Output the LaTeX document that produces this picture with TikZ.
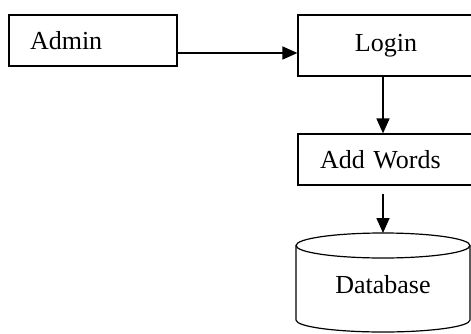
\documentclass[tikz,border=0pt]{standalone}
\usepackage{fontspec}
\setmainfont{Liberation Serif}
\usepackage{tikz}
\usetikzlibrary{arrows.meta,positioning,calc}

\begin{document}
\begin{tikzpicture}[x=1pt,y=1pt,
    box/.style={draw,line width=1.2pt,minimum height=51pt,font=\fontsize{26}{30}\selectfont},
    arr/.style={line width=1.6pt,-{Triangle[length=15pt,width=13pt]}}]
  \useasboundingbox (0,0) rectangle (471,333);
  \node[box,minimum width=168pt,text width=126pt,inner xsep=21pt,align=left] (admin) at (93,292.5) {Admin};
  \node[box,minimum width=176pt,minimum height=61pt] (login) at (386,287.5) {Login};
  \node[box,minimum width=176pt,text width=132pt,inner xsep=22pt,align=left] (add) at (386,173.5) {Add Words};
  % database drum
  \draw[line width=1.2pt] (296,87.5) -- (296,13) arc[start angle=180,end angle=360,x radius=87,y radius=12] -- (470,87.5);
  \draw[line width=1.2pt] (383,87.5) ellipse[x radius=87,y radius=12.5];
  \coordinate (dbtop) at (383,100);
  \node[font=\fontsize{26}{30}\selectfont] (db) at (383,48) {Database};
  \draw[arr] ([yshift=-12.5pt]admin.east) -- ([yshift=-7.5pt]login.west);
  \draw[arr] ([xshift=-3pt]login.south) -- ([xshift=-3pt]add.north);
  \draw[arr,shorten <=8pt] ([xshift=-3pt]add.south) -- (dbtop);
\end{tikzpicture}
\end{document}
